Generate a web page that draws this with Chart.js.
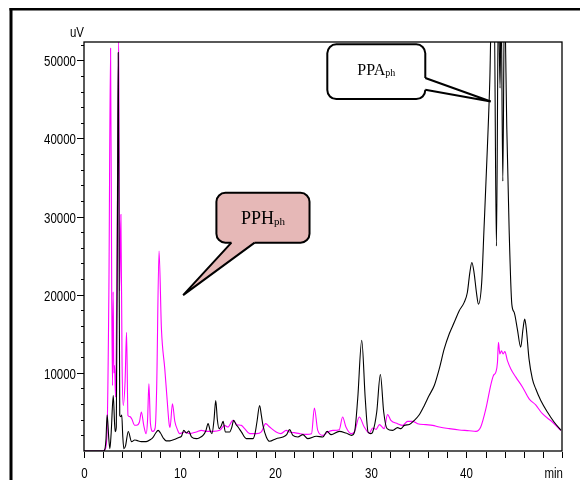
<!DOCTYPE html>
<html>
<head>
<meta charset="utf-8">
<title>Chromatogram PPA / PPH</title>
<script src="https://cdn.jsdelivr.net/npm/chart.js"></script>
<style>
  html, body { margin: 0; padding: 0; background: #fff; }
  #wrap { width: 580px; height: 480px; position: relative; }
</style>
</head>
<body>
<div id="wrap"><canvas id="chrom"></canvas></div>
<script>
// --- data (time in min, signal in uV) ---
const blackTime = [0, 2.0, 2.15, 2.3, 2.42, 2.6, 2.71, 2.85, 3.06, 3.2, 3.27, 3.38, 3.5, 3.58, 3.66, 3.74, 3.85, 3.95, 4.05, 4.17,
  4.35, 4.63, 4.98, 5.3, 5.5, 6.0, 6.5, 7.0, 7.2, 7.5, 7.75, 8.0, 8.27, 8.6, 8.98, 9.5, 10.0, 10.2, 10.44, 10.72,
  10.96, 11.24, 11.76, 12.1, 12.45, 12.75, 12.98, 13.2, 13.39, 13.6, 13.78, 13.95, 14.13, 14.35, 14.55, 14.79, 15.24, 15.45, 15.66, 15.9,
  16.11, 16.46, 16.98, 17.67, 17.9, 18.09, 18.37, 18.55, 18.72, 19.07, 19.42, 20.1, 20.8, 21.2, 21.5, 21.85, 22.37, 22.9, 23.4, 24.3,
  24.98, 25.43, 25.85, 26.7, 27.4, 28.0, 28.3, 28.63, 29.05, 29.42, 29.72, 30.0, 30.2, 30.62, 31.0, 31.35, 31.7, 32.29, 32.8, 33.15,
  33.5, 34.03, 34.55, 35.07, 35.6, 36.1, 36.64, 37.16, 37.68, 38.2, 38.73, 39.25, 39.77, 40.1, 40.36, 40.57, 40.8, 41.05, 41.26, 41.6,
  41.84, 42.2, 42.45, 42.65, 42.9, 43.14, 43.35, 43.52, 43.63, 43.81, 43.98, 44.23, 44.47, 44.75, 45.0, 45.33, 45.68, 45.92, 46.1, 46.27,
  46.55, 46.9, 47.25, 47.78, 48.47, 49.17, 49.9];
const blackSignal = [0, 0, 100, 1500, 4640, 1500, 300, 2500, 7100, 3500, 2470, 3070, 30000, 51000, 30000, 4550, 4400, 4600, 2000, 300,
  700, 2500, 1200, 1400, 1360, 1200, 1200, 1500, 1700, 2300, 2640, 2300, 1700, 1300, 1300, 1500, 1750, 1900, 2640, 2300,
  2560, 1800, 1580, 1700, 2000, 2600, 3500, 2600, 2220, 4000, 6470, 4000, 2860, 3200, 3790, 2440, 2440, 3000, 3920, 3400,
  3070, 2440, 1580, 1580, 2300, 3710, 5830, 4600, 3280, 1800, 1240, 1580, 1800, 2100, 2730, 2000, 1800, 2090, 1580, 1880,
  1800, 2510, 2090, 2510, 2300, 2000, 2440, 6680, 14170, 6680, 2400, 2220, 2440, 4990, 9790, 4990, 2860, 2640, 2990, 2860,
  3280, 3400, 3920, 4640, 5830, 7100, 8380, 10510, 13060, 14970, 16470, 17950, 19020, 20290, 22840, 24120, 22840, 20290, 18800, 21570,
  28370, 39000, 47500, 58000, 58000, 26240, 58000, 46440, 58000, 34530, 58000, 41120, 28370, 18800, 17740, 15610, 13280, 15610, 16890, 15610,
  11790, 9240, 7960, 6470, 4990, 3710, 2640];

const pinkTime = [0, 2.0, 2.2, 2.4, 2.6, 2.78, 2.9, 2.98, 3.05, 3.12, 3.2, 3.3, 3.48, 3.63, 3.72, 3.86, 3.98, 4.1, 4.3, 4.45,
  4.6, 4.8, 5.0, 5.3, 5.5, 5.8, 6.0, 6.25, 6.5, 6.65, 6.79, 6.95, 7.2, 7.45, 7.6, 7.85, 8.1, 8.45, 8.7, 8.9,
  9.0, 9.25, 9.5, 9.75, 10.0, 10.54, 11.05, 11.75, 12.29, 12.82, 13.5, 14.2, 14.7, 15.05, 15.58, 16.0, 16.46, 16.8, 17.33, 18.03,
  18.55, 19.0, 19.42, 20.1, 20.6, 21.15, 21.5, 22.0, 22.55, 23.25, 23.8, 24.1, 24.45, 24.98, 25.5, 26.03, 26.7, 27.05, 27.4, 27.95,
  28.3, 28.8, 29.3, 29.85, 30.2, 30.55, 30.9, 31.4, 31.75, 32.1, 32.8, 33.33, 33.85, 34.37, 34.9, 35.77, 36.46, 37.16, 38.2, 39.25,
  40.3, 41.0, 41.5, 42.04, 42.56, 42.83, 43.08, 43.25, 43.35, 43.5, 43.67, 43.84, 44.02, 44.29, 44.65, 45.17, 45.86, 46.56, 47.25, 47.95,
  48.99, 49.87];
const pinkSignal = [0, 0, 200, 2000, 20000, 51540, 20000, 8380, 20370, 10000, 10930, 6900, 30000, 53000, 20500, 30280, 11360, 5830, 9000, 15190,
  4550, 4400, 4100, 3300, 3300, 3710, 4990, 3280, 2200, 4000, 8600, 3500, 2500, 3000, 8000, 25600, 15610, 10510, 6500, 3500,
  3000, 6040, 3800, 2800, 2220, 2440, 2220, 2440, 2640, 2510, 2510, 2640, 3280, 3070, 3920, 3370, 3280, 2860, 2220, 2220,
  2440, 3500, 3070, 2440, 2220, 2640, 2440, 2350, 2220, 2130, 2220, 5500, 2640, 2000, 2440, 2640, 2730, 4350, 3070, 2220,
  2510, 4350, 3100, 2300, 2950, 2770, 3370, 2860, 4680, 3920, 3500, 3280, 3790, 3790, 3500, 3370, 3280, 3070, 2860, 2690,
  2600, 2510, 3070, 5410, 8500, 9660, 10090, 11360, 13900, 12420, 12840, 12420, 12720, 11570, 10510, 9450, 8200, 6680, 5900, 4770,
  3710, 2640];

const xMajorTicks = [0, 10, 20, 30, 40];
const yMajorTicks = [10000, 20000, 30000, 40000, 50000];
const xMinorStep = 2;
const yMinorStep = 2000;

// callout boxes, anchored in data units (min, uV)
const callouts = [
  { text: 'PPA', sub: 'ph', size: 16, fill: '#ffffff', box: [25.45, 52050, 35.7, 45040],
    base: [[35.7, 47750], [35.7, 46230]], tip: [42.55, 44730], dy: 3 },
  { text: 'PPH', sub: 'ph', size: 18, fill: '#e6b8b7', box: [13.85, 33050, 23.59, 26670],
    base: [[15.42, 26670], [17.85, 26670]], tip: [10.37, 19950], dy: 6 }
];

const labelFont = '14px "Liberation Sans", Arial, sans-serif';

function stepTicks(scale, step) {
    const out = [];
    for (let v = Math.ceil(scale.min / step) * step; v <= scale.max + 1e-9; v += step) out.push({ value: v });
    scale.ticks = out;
}

// Arial-Narrow look: squeeze Liberation Sans horizontally
function narrowText(ctx, text, x, y, align) {
    ctx.save();
    ctx.translate(x, y);
    ctx.scale(0.82, 1);
    ctx.textAlign = align;
    ctx.textBaseline = 'alphabetic';
    ctx.fillText(text, 0, 0);
    ctx.restore();
}

function roundRect(ctx, x, y, w, h, r) {
    ctx.beginPath();
    ctx.moveTo(x + r, y);
    ctx.arcTo(x + w, y, x + w, y + h, r);
    ctx.arcTo(x + w, y + h, x, y + h, r);
    ctx.arcTo(x, y + h, x, y, r);
    ctx.arcTo(x, y, x + w, y, r);
    ctx.closePath();
}

const decorations = {
    id: 'decorations',
    afterDraw(chart) {
        const { ctx, chartArea: a } = chart;
        const xs = chart.scales.x, ys = chart.scales.y;
        ctx.save();

        // page frame (only top + left edges visible)
        ctx.strokeStyle = '#000';
        ctx.lineWidth = 3;
        ctx.beginPath(); ctx.moveTo(11, 480); ctx.lineTo(11, 8); ctx.stroke();
        ctx.lineWidth = 2.5;
        ctx.beginPath(); ctx.moveTo(9.5, 9.2); ctx.lineTo(580, 9.2); ctx.stroke();

        // plot box
        ctx.lineWidth = 1.3;
        ctx.strokeRect(a.left, a.top, a.right - a.left, a.bottom - a.top);

        // tick marks + labels
        ctx.lineWidth = 1;
        ctx.fillStyle = '#000';
        ctx.font = labelFont;
        ys.ticks.forEach(t => {
            if (t.value <= 0) return;
            const py = Math.round(ys.getPixelForValue(t.value)) + 0.5;
            const major = yMajorTicks.includes(t.value);
            const len = major ? 7 : 3;
            ctx.beginPath(); ctx.moveTo(a.left - len, py); ctx.lineTo(a.left, py); ctx.stroke();
            if (major) narrowText(ctx, String(t.value), a.left - 8, py + 5, 'right');
        });
        xs.ticks.forEach(t => {
            const px = Math.round(xs.getPixelForValue(t.value)) + 0.5;
            ctx.beginPath(); ctx.moveTo(px, a.bottom + 1); ctx.lineTo(px, a.bottom + 7); ctx.stroke();
            if (xMajorTicks.includes(t.value)) narrowText(ctx, String(t.value), px, 478, 'center');
        });

        // axis units
        narrowText(ctx, 'uV', a.left, 37, 'right');
        narrowText(ctx, 'min', xs.getPixelForValue(xs.max) + 1, 478, 'right');

        // callouts
        callouts.forEach(c => {
            const x0 = xs.getPixelForValue(c.box[0]), y0 = ys.getPixelForValue(c.box[1]);
            const x1 = xs.getPixelForValue(c.box[2]), y1 = ys.getPixelForValue(c.box[3]);
            const b = c.base.map(p => [xs.getPixelForValue(p[0]), ys.getPixelForValue(p[1])]);
            const tip = [xs.getPixelForValue(c.tip[0]), ys.getPixelForValue(c.tip[1])];
            ctx.lineWidth = 2;
            ctx.strokeStyle = '#000';
            ctx.fillStyle = c.fill;
            roundRect(ctx, x0, y0, x1 - x0, y1 - y0, 9);
            ctx.fill(); ctx.stroke();
            // wedge: pull base points inside the box to cover the border between them
            const cx = (x0 + x1) / 2, cy = (y0 + y1) / 2;
            const inward = p => [p[0] + Math.sign(cx - p[0]) * (Math.abs(cx - p[0]) > (x1 - x0) / 2 - 1 ? 3 : 0),
                                 p[1] + Math.sign(cy - p[1]) * (Math.abs(cy - p[1]) > (y1 - y0) / 2 - 1 ? 3 : 0)];
            const b0in = inward(b[0]), b1in = inward(b[1]);
            ctx.beginPath();
            ctx.moveTo(b0in[0], b0in[1]); ctx.lineTo(b[0][0], b[0][1]); ctx.lineTo(tip[0], tip[1]);
            ctx.lineTo(b[1][0], b[1][1]); ctx.lineTo(b1in[0], b1in[1]); ctx.closePath();
            ctx.fill();
            ctx.beginPath();
            ctx.moveTo(b[0][0], b[0][1]); ctx.lineTo(tip[0], tip[1]); ctx.lineTo(b[1][0], b[1][1]);
            ctx.stroke();

            // label with subscript
            const mainFont = c.size + 'px "Liberation Serif", "Times New Roman", serif';
            const subFont = Math.round(c.size * 0.6) + 'px "Liberation Serif", "Times New Roman", serif';
            ctx.font = mainFont;
            const w1 = ctx.measureText(c.text).width;
            ctx.font = subFont;
            const w2 = ctx.measureText(c.sub).width;
            const tx = cx - (w1 + w2) / 2, ty = cy + c.dy;
            ctx.fillStyle = '#000';
            ctx.textAlign = 'left';
            ctx.textBaseline = 'alphabetic';
            ctx.font = mainFont;
            ctx.fillText(c.text, tx, ty);
            ctx.font = subFont;
            ctx.fillText(c.sub, tx + w1, ty + 1);
        });
        ctx.restore();
    }
};

new Chart(document.getElementById('chrom'), {
    type: 'line',
    data: {
        datasets: [{
            label: 'PPA',
            data: blackTime.map((t, i) => ({ x: t, y: blackSignal[i] })),
            borderColor: '#000000',
            borderWidth: 1.1,
            pointRadius: 0,
            cubicInterpolationMode: 'monotone',
            fill: false
        }, {
            label: 'PPH',
            data: pinkTime.map((t, i) => ({ x: t, y: pinkSignal[i] })),
            borderColor: '#ff00ff',
            borderWidth: 1.1,
            pointRadius: 0,
            cubicInterpolationMode: 'monotone',
            fill: false
        }]
    },
    options: {
        responsive: true,
        maintainAspectRatio: false,
        animation: false,
        layout: { padding: { top: 42, right: 18, left: 0, bottom: 0 } },
        plugins: { legend: { display: false }, tooltip: { enabled: false } },
        scales: {
            x: {
                type: 'linear',
                min: 0,
                max: 50,
                grid: { display: false },
                border: { display: false },
                ticks: { display: false },
                afterBuildTicks: s => stepTicks(s, xMinorStep),
                afterFit: s => { s.height = 29; }
            },
            y: {
                min: 0,
                max: 52350,
                grid: { display: false },
                border: { display: false },
                ticks: { display: false },
                afterBuildTicks: s => stepTicks(s, yMinorStep),
                afterFit: s => { s.width = 84; }
            }
        }
    },
    plugins: [decorations]
});
</script>
</body>
</html>
